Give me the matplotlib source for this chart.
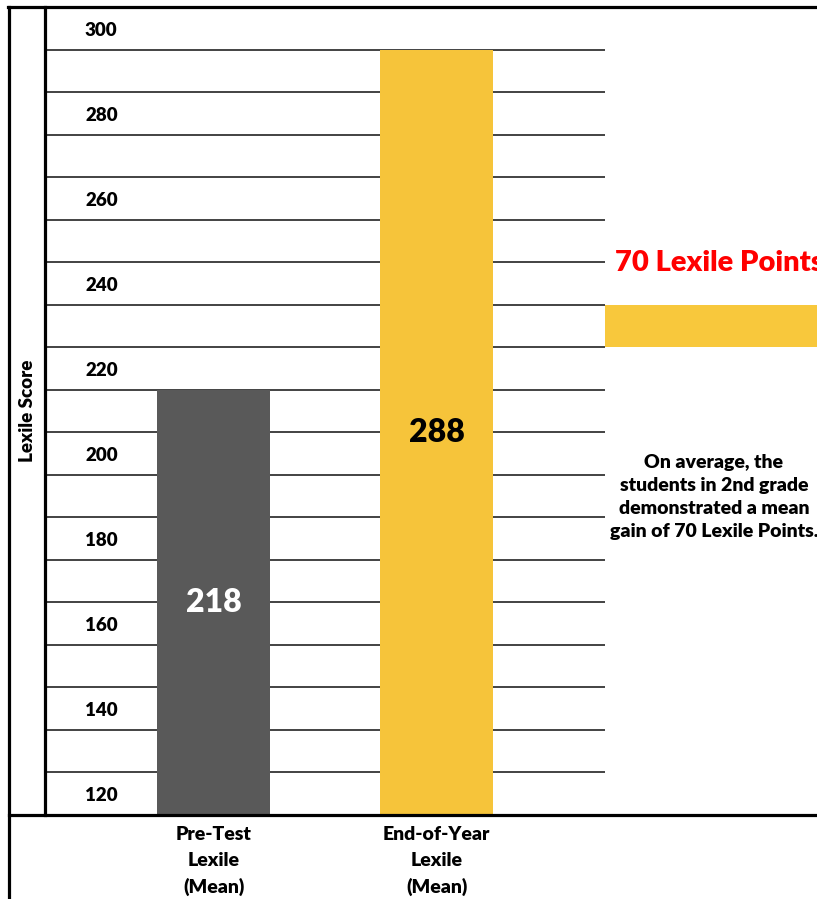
import matplotlib
matplotlib.use('Agg')
import matplotlib.pyplot as plt
import numpy as np
from matplotlib.lines import Line2D
from matplotlib.patches import Rectangle

plt.rcParams['font.family'] = ['Lato', 'DejaVu Sans']
plt.rcParams['font.weight'] = 'heavy'

# data
categories = ['Pre-Test\nLexile\n(Mean)', 'End-of-Year\nLexile\n(Mean)']
means = [218, 288]
bar_colors = ['#595959', '#F6C43A']
value_colors = ['white', 'black']
tick_values = [120, 140, 160, 180, 200, 220, 240, 260, 280, 300]
grid_values = np.arange(125, 300, 10)
gain = means[1] - means[0]
note = ("On average, the\nstudents in 2nd grade\ndemonstrated a mean\n"
        f"gain of {gain} Lexile Points.")

W, H = 817, 899
fig = plt.figure(figsize=(W / 100, H / 100), dpi=100)

def fx(px):
    return px / W

def fy(py):
    return 1 - py / H

rect = [fx(45), fy(815), fx(817) - fx(45), fy(7) - fy(815)]
xlim = (-0.756, 2.706)
plot_right = 1.756

# axis with the score scale (grid + labels)
ax_grid = fig.add_axes(rect)
ax_grid.set_xlim(xlim)
ax_grid.set_ylim(114.95, 305.12)
ax_grid.hlines(grid_values, xlim[0], plot_right, color='#222222', lw=1.2)
ax_grid.set_yticks(tick_values)
ax_grid.set_yticklabels([str(v) for v in tick_values], ha='left', fontsize=13.5)
ax_grid.tick_params(axis='y', length=0, pad=-40 * 0.72)
ax_grid.set_xticks([])
for s in ax_grid.spines.values():
    s.set_visible(False)
ax_grid.add_patch(Rectangle((plot_right, 225), xlim[1] - plot_right, 10,
                            color='#F8C83C', lw=0))

# bars on top
ax = fig.add_axes(rect)
ax.patch.set_alpha(0)
ax.set_xlim(xlim)
ax.set_ylim(130.6, 296.85)
ax.bar([0, 1], means, width=0.507, color=bar_colors, zorder=3)
y0 = ax.get_ylim()[0]
for i, v in enumerate(means):
    ax.text(i, (y0 + v) / 2, str(v), ha='center', va='center',
            fontsize=23, color=value_colors[i], zorder=4)
ax.set_yticks([])
ax.set_xticks([0, 1])
ax.set_xticklabels(categories, fontsize=14, linespacing=1.62)
ax.tick_params(axis='x', length=0, pad=8)
for s in ax.spines.values():
    s.set_visible(False)

# frame lines
frame = [((8, 817), (7, 7)), ((9, 9), (7, 899)), ((45, 45), (7, 815)),
         ((9, 817), (815, 815))]
for xs, ys in frame:
    fig.add_artist(Line2D([fx(x) for x in xs], [fy(y) for y in ys],
                          color='black', lw=2.3, transform=fig.transFigure))

fig.text(fx(28), fy(411), 'Lexile Score', rotation=90, ha='center', va='center',
         fontsize=13.5)
fig.text(fx(615), fy(263), f'{gain} Lexile Points', color='#FF0000',
         fontsize=21, ha='left', va='center')
fig.text(fx(714), fy(497), note, ha='center', va='center', fontsize=14,
         linespacing=1.45)

fig.savefig('out.png', dpi=100)
